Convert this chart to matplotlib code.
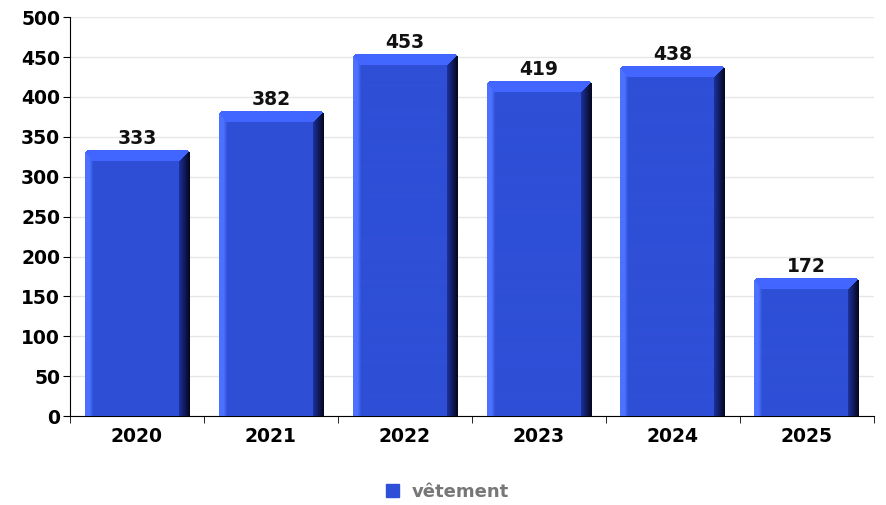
import numpy as np
import matplotlib.pyplot as plt
from matplotlib.colors import to_rgb

years = ["2020", "2021", "2022", "2023", "2024", "2025"]
values = [333, 382, 453, 419, 438, 172]
series_name = "vêtement"

face = np.array(to_rgb("#2e4fd6"))
left_edge = np.array(to_rgb("#4d72ff"))
top_col = np.array(to_rgb("#4266ff"))
side_a = np.array(to_rgb("#1c309a"))
side_b = np.array(to_rgb("#050820"))

fig = plt.figure(figsize=(8.86, 5.05), dpi=100)
ax = fig.add_axes([0.079, 0.176, 0.907, 0.790])

x = np.arange(len(years))
width = 0.78
bars = ax.bar(x, values, width=width, color="none", zorder=2)

# y-units per pixel
upp = 500 / (0.790 * 505)
ncols = 105
for b, v in zip(bars, values):
    nrows = max(int(round(v / upp)), 2)
    img = np.ones((nrows, ncols, 4))
    img[:, :, :3] = face
    # left highlight
    lw = 8
    for c in range(lw):
        t = max(0, (c - 4) / 4)
        img[:, c, :3] = left_edge * (1 - t) + face * t
    # right shaded side
    rw = 11
    for c in range(ncols - rw, ncols):
        t = (c - (ncols - rw)) / (rw - 1)
        img[:, c, :3] = side_a * (1 - t) + side_b * t
    # top bevel
    bev = 11
    for r in range(min(bev, nrows)):
        c0 = int(lw * r / bev)
        c1 = ncols - int(rw * r / bev)
        img[r, c0:c1, :3] = top_col
    # rounded top corners
    rad = 4
    for r in range(rad):
        for c in range(rad):
            if (rad - r - 0.5) ** 2 + (rad - c - 0.5) ** 2 > rad ** 2:
                img[r, c, 3] = 0
                img[r, ncols - 1 - c, 3] = 0
    ax.imshow(img, extent=(b.get_x(), b.get_x() + b.get_width(), 0, v),
              aspect="auto", zorder=3, interpolation="antialiased")
    ax.text(b.get_x() + b.get_width() / 2, v + 3, str(v), ha="center",
            va="bottom", fontsize=13.5, fontweight="bold", color="#111111", zorder=4)

ax.set_xlim(-0.5, len(years) - 0.5)
ax.set_ylim(0, 500)
ax.set_yticks(np.arange(0, 501, 50))
ax.set_xticks(x)
ax.set_xticklabels(years)
ax.set_xticks(np.arange(-0.5, len(years), 1), minor=True)
ax.tick_params(axis="x", which="major", length=0, pad=8)
ax.tick_params(axis="x", which="minor", length=5, color="black")
ax.tick_params(axis="y", length=5, pad=2)
for lbl in ax.get_xticklabels() + ax.get_yticklabels():
    lbl.set_fontsize(13.5)
    lbl.set_fontweight("bold")
ax.grid(axis="y", color="#e6e6e6", linewidth=1, zorder=0)
ax.set_axisbelow(True)
for s in ["top", "right"]:
    ax.spines[s].set_visible(False)

leg = fig.legend([plt.Rectangle((0, 0), 1, 1, color="#2e4fd8")], [series_name],
                 loc="center", bbox_to_anchor=(0.505, 0.026), frameon=False,
                 handlelength=0.7, handleheight=0.7, handletextpad=0.7,
                 prop={"weight": "bold", "size": 13})
for t in leg.get_texts():
    t.set_color("#777777")

fig.savefig("out.png", dpi=100)
